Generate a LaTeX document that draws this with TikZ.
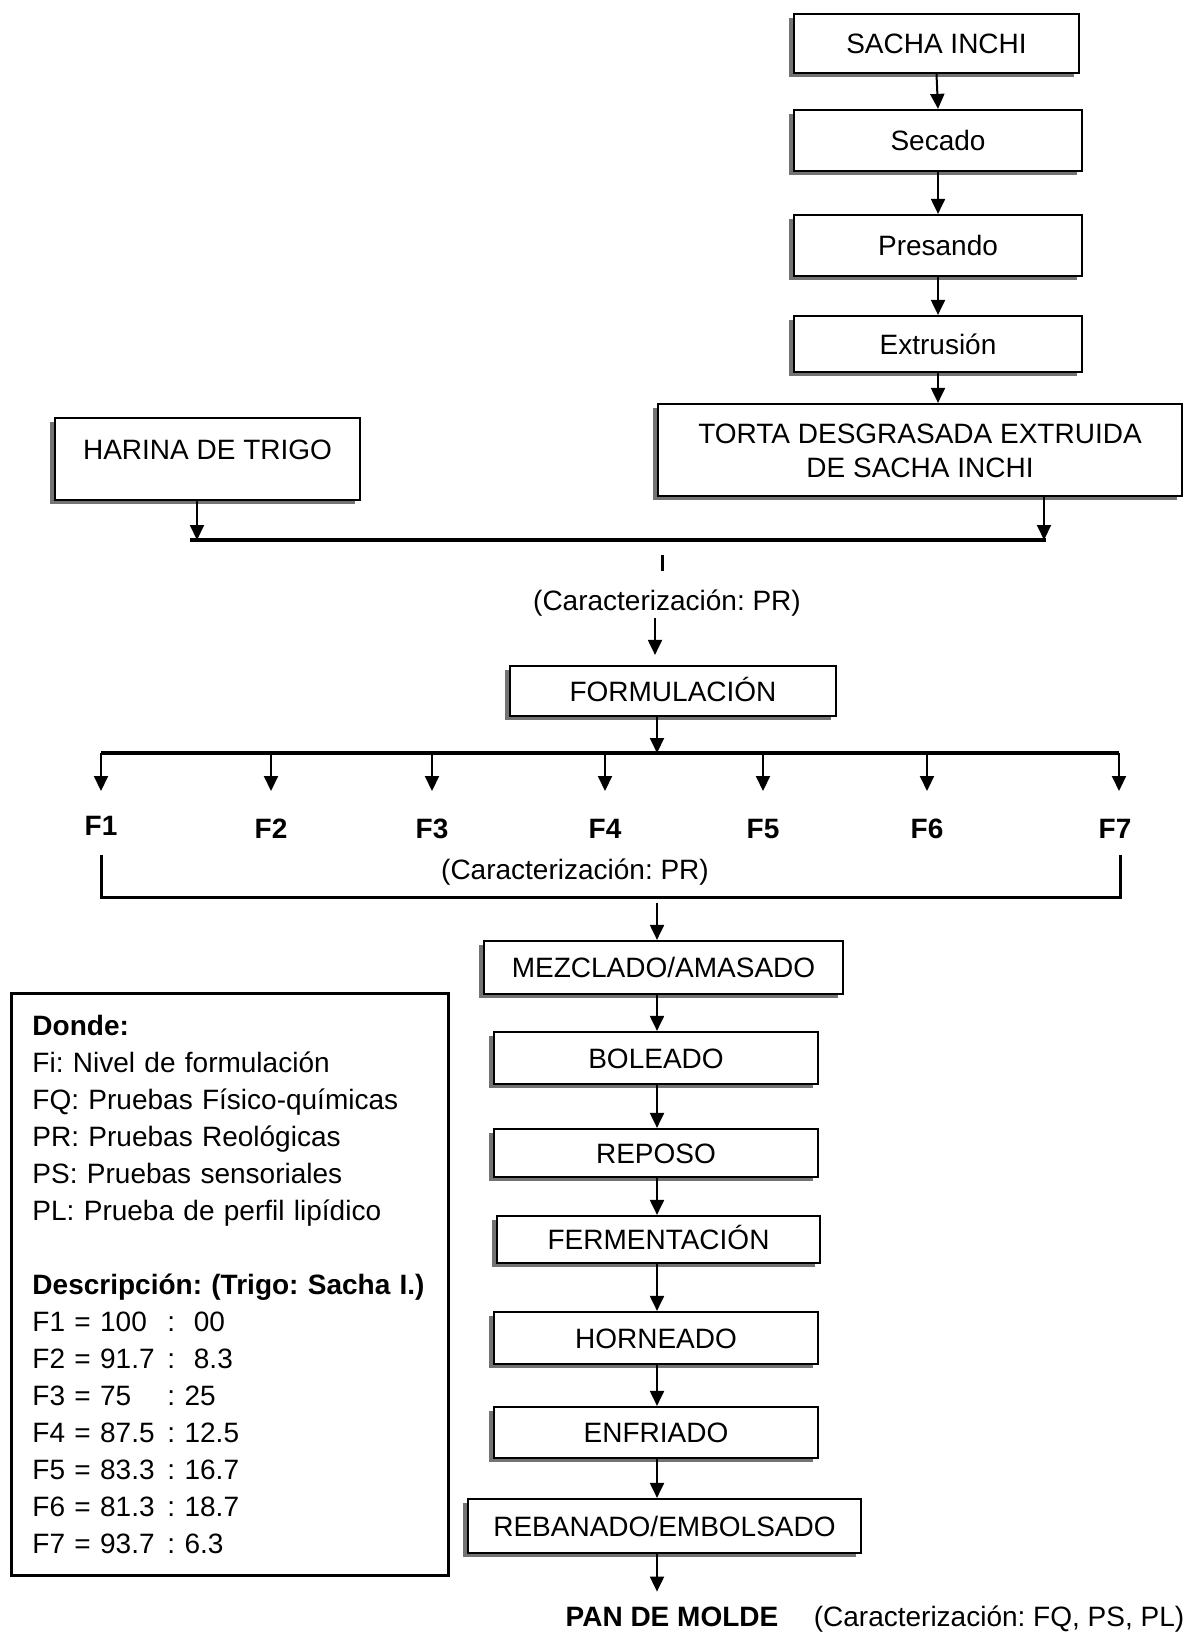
\documentclass[tikz,border=0pt]{standalone}
\usepackage{fontspec}
\setmainfont{Liberation Sans}
\usetikzlibrary{arrows.meta,positioning,shadows,calc}
\newcommand{\fila}[2]{\makebox[67.5pt][l]{#1}#2}

\begin{document}
\frenchspacing
\begin{tikzpicture}[x=0.5pt,y=-0.5pt,
  every node/.style={font=\fontsize{14pt}{17pt}\selectfont},
  caja/.style={draw,line width=1.1pt,fill=white,inner sep=0pt,
               general shadow={fill=black!55,shadow xshift=-2.5pt,shadow yshift=-2pt},
               text height=10pt,text depth=0pt},
  etiq/.style={inner sep=0pt,text height=10pt,text depth=0pt},
  flecha/.style={-{Triangle[length=7.5pt,width=7pt]},line width=1pt},
  barra/.style={line width=2pt},
  nota/.style={draw,line width=1.5pt,align=left,anchor=north west,
               text width=197.5pt,minimum width=218.5pt,minimum height=291pt,
               inner xsep=10.5pt,font=\fontsize{14pt}{18.5pt}\selectfont}
]
\useasboundingbox (0,0) rectangle (1203,1632);
\coordinate (eje) at (657,0);

% Sacha inchi
\node[caja,minimum width=142.5pt,minimum height=29.5pt] (sacha) at (936.5,43.5) {SACHA INCHI};
\node[caja,minimum width=144pt,minimum height=30.5pt] (secado) at (938,140.5) {Secado};
\node[caja,minimum width=144pt,minimum height=30.5pt] (presando) at (938,245.5) {Presando};
\node[caja,minimum width=144pt,minimum height=28pt] (extrusion) at (938,344) {Extrusión};
\node[caja,minimum width=262pt,minimum height=46pt,align=center,text height=27pt] (torta) at (920,450)
  {TORTA DESGRASADA EXTRUIDA\\DE SACHA INCHI};

\draw[flecha] (sacha.south) -- (secado.north);
\draw[flecha] (secado.south) -- (presando.north);
\draw[flecha] (presando.south) -- (extrusion.north);
\draw[flecha] (extrusion.south) -- (extrusion.south |- torta.north);

% Harina de trigo
\node[caja,minimum width=152.5pt,minimum height=41pt,text depth=10pt] (harina) at (207.5,459) {HARINA DE TRIGO};

% Mezcla de ambas harinas
\coordinate (m1) at (190,540);
\coordinate (m2) at (1046,540);
\coordinate (hx) at (197,540);
\coordinate (tx) at (1044,540);
\draw[barra] (m1) -- (m2);
\draw[flecha] (harina.south -| hx) -- (hx);
\draw[flecha] (torta.south -| tx) -- (tx);
\draw[line width=1.5pt] (662,555) -- (662,571);

\node[etiq] (car1) at (667,600) {(Caracterización: PR)};
\node[caja,minimum width=163pt,minimum height=25pt] (formul) at (673,691) {FORMULACIÓN};
\coordinate (c1) at (655,618);
\draw[flecha,shorten >=5pt] (c1) -- (c1 |- formul.north);

% Formulaciones
\coordinate (b1) at (101,753);
\coordinate (b7) at (1119,753);
\draw[barra] (b1) -- (b7);
\draw[flecha] (formul.south -| eje) -- (b1 -| eje);

\node[etiq,font=\fontsize{14pt}{17pt}\selectfont\bfseries] (F1) at (101,825) {F1};
\node[etiq,font=\fontsize{14pt}{17pt}\selectfont\bfseries] (F2) at (271,828) {F2};
\node[etiq,font=\fontsize{14pt}{17pt}\selectfont\bfseries] (F3) at (432,828) {F3};
\node[etiq,font=\fontsize{14pt}{17pt}\selectfont\bfseries] (F4) at (605,828) {F4};
\node[etiq,font=\fontsize{14pt}{17pt}\selectfont\bfseries] (F5) at (763,828) {F5};
\node[etiq,font=\fontsize{14pt}{17pt}\selectfont\bfseries] (F6) at (927,828) {F6};
\node[etiq,font=\fontsize{14pt}{17pt}\selectfont\bfseries] (F7) at (1115,828) {F7};

\draw[flecha] (b1) -- (b1 |- 0,791);
\draw[flecha] (b1 -| F2) -- (F2 |- 0,791);
\draw[flecha] (b1 -| F3) -- (F3 |- 0,791);
\draw[flecha] (b1 -| F4) -- (F4 |- 0,791);
\draw[flecha] (b1 -| F5) -- (F5 |- 0,791);
\draw[flecha] (b1 -| F6) -- (F6 |- 0,791);
\draw[flecha] (b7) -- (b7 |- 0,791);

% Caracterizacion de las formulaciones
\coordinate (k1) at (101,855);
\coordinate (k2) at (1120,897);
\draw[line width=1.5pt] (k1) |- (k2) -- (k2 |- k1);
\node[etiq] (car2) at (575,869) {(Caracterización: PR)};

% Elaboracion del pan
\node[caja,minimum width=179.5pt,minimum height=26.5pt] (mezcla) at (663.5,967.5) {MEZCLADO/AMASADO};
\node[caja,minimum width=162pt,minimum height=26pt] (boleado) at (656,1058) {BOLEADO};
\node[caja,minimum width=162pt,minimum height=24pt] (reposo) at (656,1153) {REPOSO};
\node[caja,minimum width=161.5pt,minimum height=23.5pt] (ferment) at (658.5,1239.5) {FERMENTACIÓN};
\node[caja,minimum width=162pt,minimum height=26pt] (horneado) at (656,1338) {HORNEADO};
\node[caja,minimum width=162pt,minimum height=25.5pt] (enfriado) at (656,1432.5) {ENFRIADO};
\node[caja,minimum width=196.5pt,minimum height=27pt] (rebanado) at (664.5,1526) {REBANADO/EMBOLSADO};

\coordinate (c2) at (657,903);
\draw[flecha] (c2) -- (c2 |- mezcla.north);
\draw[flecha] (mezcla.south -| eje) -- (boleado.north -| eje);
\draw[flecha] (boleado.south -| eje) -- (reposo.north -| eje);
\draw[flecha] (reposo.south -| eje) -- (ferment.north -| eje);
\draw[flecha] (ferment.south -| eje) -- (horneado.north -| eje);
\draw[flecha] (horneado.south -| eje) -- (enfriado.north -| eje);
\draw[flecha] (enfriado.south -| eje) -- (rebanado.north -| eje);

% Producto final
\node[etiq,font=\fontsize{14pt}{17pt}\selectfont\bfseries] (pan) at (672,1616) {PAN DE MOLDE};
\node[etiq] (car3) at (999,1616) {(Caracterización: FQ, PS, PL)};
\draw[flecha,shorten >=7pt] (rebanado.south -| eje) -- (pan.north -| eje);

% Leyenda
\node[nota] (leyenda) at (10,992) {
  \textbf{Donde:}\\
  Fi: Nivel de formulación\\
  FQ: Pruebas Físico-químicas\\
  PR: Pruebas Reológicas\\
  PS: Pruebas sensoriales\\
  PL: Prueba de perfil lipídico\\[18.5pt]
  \textbf{Descripción: (Trigo: Sacha I.)}\\
  \fila{F1 = 100}{:~~00}\\
  \fila{F2 = 91.7}{:~~8.3}\\
  \fila{F3 = 75}{: 25}\\
  \fila{F4 = 87.5}{: 12.5}\\
  \fila{F5 = 83.3}{: 16.7}\\
  \fila{F6 = 81.3}{: 18.7}\\
  \fila{F7 = 93.7}{: 6.3}
};

\end{tikzpicture}
\end{document}
